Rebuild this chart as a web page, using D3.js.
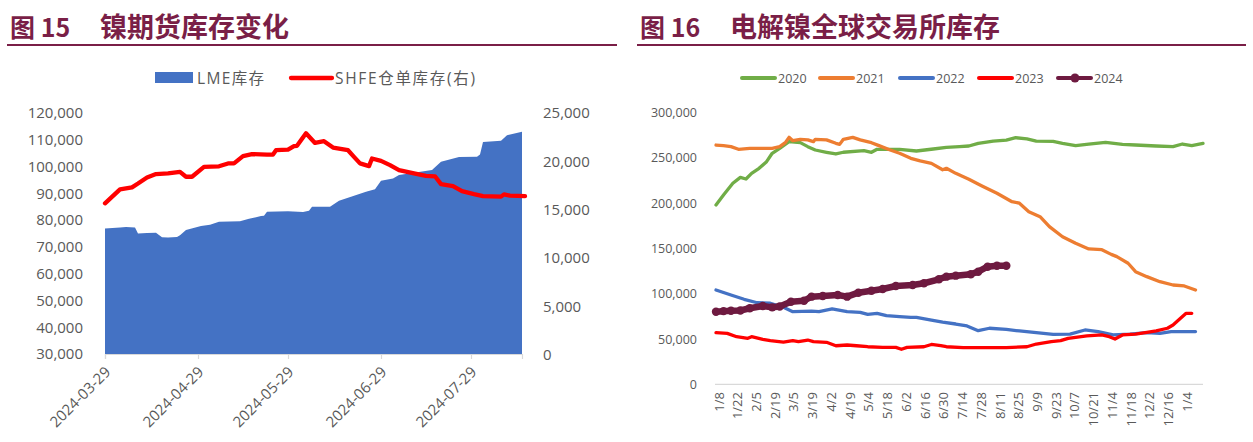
<!DOCTYPE html>
<html><head><meta charset="utf-8">
<script src="https://cdn.jsdelivr.net/npm/d3@7/dist/d3.min.js"></script>
<style>
html,body{margin:0;padding:0;background:#fff;}
svg{display:block;}
</style></head>
<body>
<svg id="c" width="1253" height="442"></svg>
<script>
// ---------- Figure 15 data ----------
const lmeDates = ["2024-03-29","2024-04-03","2024-04-05","2024-04-08","2024-04-09","2024-04-12","2024-04-15","2024-04-17","2024-04-19","2024-04-22","2024-04-23","2024-04-25","2024-04-30","2024-05-03","2024-05-06","2024-05-13","2024-05-16","2024-05-20","2024-05-21","2024-05-22","2024-05-29","2024-06-03","2024-06-05","2024-06-06","2024-06-12","2024-06-15","2024-06-19","2024-06-24","2024-06-27","2024-06-29","2024-07-03","2024-07-05","2024-07-16","2024-07-19","2024-07-25","2024-07-31","2024-08-01","2024-08-02","2024-08-08","2024-08-10","2024-08-15"];
const lmeValues = [76900,77200,77400,77200,75000,75200,75300,73600,73500,73700,74300,76300,77800,78300,79400,79600,80500,81500,81600,83100,83300,83000,83500,85000,85000,87200,88700,90600,91500,94700,95500,96800,98700,101800,103600,103700,104500,109200,109600,111700,113000];
const shfeDates = ["2024-03-29","2024-04-03","2024-04-07","2024-04-09","2024-04-12","2024-04-15","2024-04-19","2024-04-23","2024-04-25","2024-04-27","2024-05-01","2024-05-06","2024-05-09","2024-05-11","2024-05-14","2024-05-17","2024-05-22","2024-05-24","2024-05-25","2024-05-29","2024-05-31","2024-06-01","2024-06-04","2024-06-07","2024-06-10","2024-06-13","2024-06-18","2024-06-20","2024-06-22","2024-06-25","2024-06-26","2024-06-29","2024-07-02","2024-07-05","2024-07-10","2024-07-14","2024-07-17","2024-07-19","2024-07-23","2024-07-26","2024-07-30","2024-08-02","2024-08-08","2024-08-09","2024-08-11","2024-08-16"];
const shfeValues = [15650,17100,17300,17700,18330,18680,18750,18910,18400,18400,19430,19480,19780,19780,20530,20740,20700,20700,21150,21200,21560,21600,22900,21900,22080,21420,21150,20460,19780,19500,20290,20050,19600,19090,18750,18500,18450,17640,17440,16920,16610,16400,16340,16580,16450,16400];
const leftTickDates = ["2024-03-29","2024-04-29","2024-05-29","2024-06-29","2024-07-29"];
const leftYTicks = [30000,40000,50000,60000,70000,80000,90000,100000,110000,120000];
const rightYTicks = [0,5000,10000,15000,20000,25000];

// ---------- Figure 16 data (x = trading-day index, a label every 10 days) ----------
const catLabels = ["1/8","1/22","2/5","2/19","3/5","3/19","4/2","4/19","5/4","5/18","6/2","6/16","6/30","7/14","7/28","8/11","8/25","9/9","9/23","10/7","10/21","11/4","11/18","12/2","12/16","1/4"];
const ticks16 = [0,50000,100000,150000,200000,250000,300000];
const s2020Idx = [0,4,9,13,16,19,23,27,30,34,39,45,49,53,59,64,68,79,83,86,98,107,116,123,130,135,140,148,155,160,166,171,180,185,192,199,208,217,224,235,244,249,254,260];
const s2020Val = [198000,209000,222000,228600,226800,233000,238600,245900,255200,260700,268000,266900,262500,258800,256300,254400,256300,258000,256300,259600,259600,257700,259900,261800,262500,263200,266200,268700,269800,272400,271000,268700,268300,266200,263600,265400,267300,265100,264300,263200,262500,265400,263600,266200];
const s2021Idx = [0,4,8,12,18,30,34,37,39,41,45,49,52,53,59,64,66,68,73,77,83,87,93,98,104,109,115,121,123,128,135,142,150,158,162,167,173,178,185,192,199,206,211,214,220,224,230,237,244,250,256];
const s2021Val = [264300,263600,262500,259600,260700,260700,262500,266900,272800,269100,270600,270000,268000,270600,270000,266200,265000,270600,272800,270000,266900,263600,258800,255200,249600,246700,244000,237000,238600,233000,226400,219000,211000,201700,200000,190700,185100,174100,163000,155700,149500,148700,143500,141000,133700,124400,118900,113300,109700,108600,104200];
const s2022Idx = [0,8,15,22,29,36,41,51,55,62,70,77,81,86,91,98,104,107,115,121,128,134,140,146,155,162,171,180,189,197,204,212,221,230,237,243,256];
const s2022Val = [104200,98600,93900,90100,89500,85000,80200,80900,80200,83200,80200,79500,77300,78400,75800,74700,74000,74000,70800,68600,66600,64400,59200,61900,60700,58900,57000,55200,55500,60000,58200,54500,55500,57000,56300,58200,58200];
const s2023Idx = [0,6,11,17,19,25,29,36,41,44,49,52,59,64,70,75,81,89,96,99,102,111,115,120,123,132,145,155,166,171,179,184,188,192,198,206,210,213,217,224,230,235,241,244,248,251,254];
const s2023Val = [57000,56300,52600,50800,52600,49700,48200,46700,48200,47100,48900,47100,46400,42600,43400,42600,41500,40800,40800,38700,40800,41500,44000,42600,41500,40500,40500,40500,41500,44500,47100,48200,50800,51800,53400,54500,52600,50000,54500,55500,57400,58900,61900,65500,72900,78400,78400];
const s2024Idx = [0,4,8,13,18,25,30,34,40,47,51,57,65,70,76,83,89,96,105,111,119,123,128,136,140,145,150,155];
const s2024Val = [80200,80800,81300,81500,84000,86500,85000,86000,91200,92300,96800,97500,98600,96800,101200,103400,105300,108600,109700,111600,116000,118900,120000,121500,124400,129900,131000,131000];
const seriesNames = ["2020","2021","2022","2023","2024"];
const seriesColors = ["#70AD47","#ED7D31","#4472C4","#FF0000","#6E1A40"];

// ---------- drawing ----------
const svg = d3.select("#c");
const CJK = "'Noto Sans CJK SC','Noto Sans',sans-serif";
const LAT = "'Open Sans','Noto Sans CJK SC',sans-serif";
const TXT = "#595959";
const TITLE = "#7A1F47";
const fmt = d3.format(",");

function title(x0, x1, num, name){
  svg.append("text").attr("x", x0+3).attr("y", 37).attr("font-family", CJK).attr("font-weight","bold")
    .attr("font-size", 25).attr("fill", TITLE).text(num);
  svg.append("text").attr("x", x0+93).attr("y", 37).attr("font-family", CJK).attr("font-weight","bold")
    .attr("font-size", 27).attr("fill", TITLE).text(name);
  svg.append("line").attr("x1", x0).attr("x2", x1).attr("y1", 45).attr("y2", 45)
    .attr("stroke", TITLE).attr("stroke-width", 2);
}
title(7, 617, "图 15", "镍期货库存变化");
title(637, 1246, "图 16", "电解镍全球交易所库存");

// ----- Figure 15 -----
const parse = d3.timeParse("%Y-%m-%d");
const x15 = d3.scaleTime().domain([parse("2024-03-29"), parse("2024-08-15")]).range([105, 522]);
const yL = d3.scaleLinear().domain([30000,120000]).range([354,113]);
const yR = d3.scaleLinear().domain([0,25000]).range([354.5,113]);
const g15 = svg.append("g");

const lme = lmeDates.map((d,i)=>({d:parse(d), v:lmeValues[i]}));
g15.append("path").datum(lme)
  .attr("d", d3.area().x(p=>x15(p.d)).y0(yL(30000)).y1(p=>yL(p.v)))
  .attr("fill", "#4472C4");

const xAx15 = d3.axisBottom(x15).tickValues(leftTickDates.map(parse)).tickSize(5).tickFormat(d3.timeFormat("%Y-%m-%d"));
const ax15 = g15.append("g").attr("transform","translate(0,354)").call(xAx15);
ax15.select(".domain").attr("stroke","#D9D9D9").attr("stroke-width",1.2);
ax15.selectAll(".tick line").attr("stroke","#D9D9D9").attr("stroke-width",1.2);
ax15.selectAll(".tick text").attr("font-family", LAT).attr("font-size", 15).attr("fill", TXT)
  .attr("text-anchor","end").attr("dy", 0).attr("y", 0)
  .attr("transform","translate(6,19) rotate(-45)");

const yAxL = d3.axisLeft(yL).tickValues(leftYTicks).tickSize(0).tickPadding(0).tickFormat(fmt);
const gyl = g15.append("g").attr("transform","translate(83,0)").call(yAxL);
gyl.select(".domain").remove();
gyl.selectAll("text").attr("font-family", LAT).attr("font-size", 15).attr("fill", TXT);

const yAxR = d3.axisRight(yR).tickValues(rightYTicks).tickSize(0).tickPadding(0).tickFormat(fmt);
const gyr = g15.append("g").attr("transform","translate(543,0)").call(yAxR);
gyr.select(".domain").remove();
gyr.selectAll("text").attr("font-family", LAT).attr("font-size", 15).attr("fill", TXT);

const shfe = shfeDates.map((d,i)=>({d:parse(d), v:shfeValues[i]}));
g15.append("path").datum(shfe)
  .attr("d", d3.line().x(p=>x15(p.d)).y(p=>yR(p.v)))
  .attr("fill","none").attr("stroke","#FF0000").attr("stroke-width",4.3).attr("stroke-linejoin","round").attr("stroke-linecap","round");

// legend 15
g15.append("rect").attr("x",155).attr("y",72).attr("width",38).attr("height",11).attr("fill","#4472C4");
g15.append("text").attr("x",197).attr("y",83.5).attr("font-family",LAT).attr("font-size",15.5).attr("fill",TXT)
  .attr("textLength",67).attr("lengthAdjust","spacing").text("LME库存");
g15.append("line").attr("x1",291).attr("x2",332).attr("y1",78).attr("y2",78).attr("stroke","#FF0000").attr("stroke-width",4.3).attr("stroke-linecap","round");
g15.append("text").attr("x",335).attr("y",83.5).attr("font-family",LAT).attr("font-size",15.5).attr("fill",TXT)
  .attr("textLength",140).attr("lengthAdjust","spacing").text("SHFE仓单库存(右)");

// ----- Figure 16 -----
const x16 = d3.scaleLinear().domain([0,260]).range([716,1203]);
const y16 = d3.scaleLinear().domain([0,300000]).range([384.3,112.7]);
const g16 = svg.append("g");

g16.append("line").attr("x1",715).attr("x2",1203).attr("y1",y16(0)).attr("y2",y16(0)).attr("stroke","#D9D9D9").attr("stroke-width",1.2);

const yAx16 = d3.axisLeft(y16).tickValues(ticks16).tickSize(0).tickPadding(0).tickFormat(fmt);
const gy16 = g16.append("g").attr("transform","translate(697,0)").call(yAx16);
gy16.select(".domain").remove();
gy16.selectAll("text").attr("font-family", LAT).attr("font-size", 12.5).attr("fill", TXT);

catLabels.forEach((lab,k)=>{
  g16.append("text").attr("transform",`translate(${x16(k*10)+3},392) rotate(-90)`)
    .attr("text-anchor","end").attr("dy","0.35em")
    .attr("font-family",LAT).attr("font-size",13).attr("fill",TXT).text(lab);
});

const idxs = [s2020Idx,s2021Idx,s2022Idx,s2023Idx,s2024Idx];
const vals = [s2020Val,s2021Val,s2022Val,s2023Val,s2024Val];
const line16 = d3.line().x(p=>x16(p[0])).y(p=>y16(p[1]));
idxs.forEach((ix,s)=>{
  const pts = ix.map((i,j)=>[i, vals[s][j]]);
  const w = s===4 ? 6.5 : 3.3;
  g16.append("path").datum(pts).attr("d", line16).attr("fill","none")
    .attr("stroke", seriesColors[s]).attr("stroke-width", w)
    .attr("stroke-linejoin","round").attr("stroke-linecap","round");
  if (s===4) {
    g16.selectAll(null).data(pts).enter().append("circle")
      .attr("cx",p=>x16(p[0])).attr("cy",p=>y16(p[1])).attr("r",4.2).attr("fill",seriesColors[s]);
  }
});

// legend 16
const legX = [742, 820, 900, 979, 1058];
seriesNames.forEach((n,s)=>{
  g16.append("line").attr("x1",legX[s]).attr("x2",legX[s]+33).attr("y1",78).attr("y2",78)
    .attr("stroke",seriesColors[s]).attr("stroke-width",4).attr("stroke-linecap","round");
  if (s===4) g16.append("circle").attr("cx",legX[s]+17).attr("cy",78).attr("r",4.5).attr("fill",seriesColors[s]);
  g16.append("text").attr("x",legX[s]+36).attr("y",82.5).attr("font-family",LAT).attr("font-size",12.5).attr("fill",TXT).text(n);
});
</script>
</body></html>
